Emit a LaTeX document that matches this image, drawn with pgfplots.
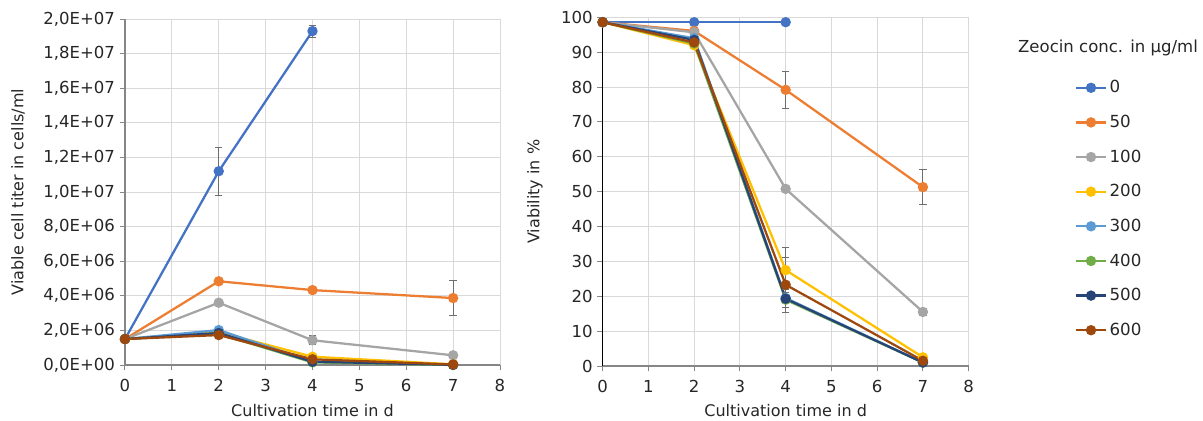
\documentclass[border=0pt]{standalone}
\usepackage{fontspec}
\setmainfont{DejaVu Sans}
\usepackage{pgfplots}
\pgfplotsset{compat=1.18}
\definecolor{c0}{HTML}{4472C4}
\definecolor{c50}{HTML}{ED7D31}
\definecolor{c100}{HTML}{A5A5A5}
\definecolor{c200}{HTML}{FFC000}
\definecolor{c300}{HTML}{5B9BD5}
\definecolor{c400}{HTML}{70AD47}
\definecolor{c500}{HTML}{264478}
\definecolor{c600}{HTML}{9E480E}
\definecolor{gridc}{HTML}{D9D9D9}
\definecolor{axc}{HTML}{868686}
\definecolor{errc}{HTML}{6E6E6E}
\definecolor{txt}{HTML}{262626}

\pgfplotsset{zeo/.style={
  scale only axis, clip=false,
  axis lines*=left,
  xmin=0, xmax=8, xtick={0,...,8},
  grid=major, grid style={draw=gridc, line width=0.75pt},
  axis line style={draw=axc, line width=1pt},
  tick align=outside, major tick length=4pt,
  tick style={draw=axc, line width=0.75pt},
  /pgf/number format/assume math mode=true,
  ticklabel style={font=\fontsize{12.4}{14}\selectfont, text=txt},
  xticklabel style={yshift=-3.5pt},
  label style={font=\fontsize{12}{14}\selectfont, text=txt},
  every axis plot/.append style={line width=1.7pt, mark=*, mark size=3pt},
  /pgfplots/error bars/error bar style={draw=errc, line width=0.75pt},
  /pgfplots/error bars/error mark options={rotate=90, draw=errc, line width=0.75pt, mark size=2.8pt},
}}

\begin{document}
\begin{tikzpicture}
\useasboundingbox (0,0) rectangle (902.25pt,315.75pt);

% left: viable cell titer
\begin{axis}[zeo,
  at={(93.75pt,42pt)}, anchor=south west,
  width=281.25pt, height=259.5pt,
  ymin=0, ymax=2e7,
  ytick={0,2e6,4e6,6e6,8e6,1e7,1.2e7,1.4e7,1.6e7,1.8e7,2e7},
  yticklabels={{0,0E+00},{2,0E+06},{4,0E+06},{6,0E+06},{8,0E+06},{1,0E+07},{1,2E+07},{1,4E+07},{1,6E+07},{1,8E+07},{2,0E+07}},
  scaled y ticks=false,
  xlabel={Cultivation time in d},
  ylabel={Viable cell titer in cells/ml},
  xlabel style={at={(axis description cs:0.5,-0.133)}, anchor=center},
  ylabel style={at={(axis description cs:-0.285,0.5)}, anchor=center},
]
\addplot[c0] coordinates {(0,1.5e6)(2,1.12e7)(4,1.93e7)};
\addplot[c50] coordinates {(0,1.5e6)(2,4.84e6)(4,4.33e6)(7,3.87e6)};
\addplot[c100] coordinates {(0,1.5e6)(2,3.6e6)(4,1.43e6)(7,0.56e6)};
\addplot[c200] coordinates {(0,1.5e6)(2,1.9e6)(4,0.48e6)(7,0.04e6)};
\addplot[c300] coordinates {(0,1.5e6)(2,2.02e6)(4,0.2e6)(7,0.01e6)};
\addplot[c400] coordinates {(0,1.5e6)(2,1.8e6)(4,0.15e6)(7,0)};
\addplot[c500] coordinates {(0,1.5e6)(2,1.85e6)(4,0.19e6)(7,0.01e6)};
\addplot[c600] coordinates {(0,1.5e6)(2,1.73e6)(4,0.33e6)(7,0.03e6)};
% error bars
\addplot[forget plot, draw=none, mark=none, error bars/.cd, y dir=both, y explicit]
  coordinates {(2,1.12e7) +- (0,1.4e6) (4,1.93e7) +- (0,0.35e6)
               (4,4.33e6) +- (0,0.12e6) (7,3.87e6) +- (0,1.0e6)
               (4,1.43e6) +- (0,0.25e6)};
\end{axis}

% right: viability
\begin{axis}[zeo,
  at={(452pt,41.25pt)}, anchor=south west,
  width=274.5pt, height=261.5pt,
  ymin=0, ymax=100, ytick={0,10,...,100},
  y axis line style={draw=black},
  xlabel={Cultivation time in d},
  ylabel={Viability in \%},
  xlabel style={at={(axis description cs:0.5,-0.129)}, anchor=center},
  ylabel style={at={(axis description cs:-0.185,0.5)}, anchor=center},
  legend style={draw=none, fill=none, at={(axis description cs:1.29,0.827)}, anchor=north west,
    font=\fontsize{12.5}{14}\selectfont, text=txt, row sep=11.2pt, inner sep=0pt},
  legend cell align=left,
  legend image code/.code={\draw[mark repeat=2,mark phase=2] plot coordinates {(0cm,0cm)(0.39cm,0cm)(0.78cm,0cm)};},
]
\addplot[c0] coordinates {(0,98.6)(2,98.6)(4,98.6)};
\addplot[c50] coordinates {(0,98.6)(2,96.1)(4,79.2)(7,51.3)};
\addplot[c100] coordinates {(0,98.6)(2,95.7)(4,50.8)(7,15.5)};
\addplot[c200] coordinates {(0,98.6)(2,92)(4,27.5)(7,2.5)};
\addplot[c300] coordinates {(0,98.6)(2,94)(4,19.5)(7,1)};
\addplot[c400] coordinates {(0,98.6)(2,92.5)(4,19)(7,1)};
\addplot[c500] coordinates {(0,98.6)(2,93.5)(4,19.3)(7,1)};
\addplot[c600] coordinates {(0,98.6)(2,92.8)(4,23.3)(7,1.5)};
\legend{0,50,100,200,300,400,500,600}
% error bars
\addplot[forget plot, draw=none, mark=none, error bars/.cd, y dir=both, y explicit]
  coordinates {(4,79.2) +- (0,5.3) (7,51.3) +- (0,5.1)
               (4,50.8) +- (0,0.8) (7,15.5) +- (0,1)
               (4,27.5) +- (0,6.4) (4,23.3) +- (0,7.9) (4,19.3) +- (0,2.5)};
\end{axis}

\node[font=\fontsize{12.4}{14}\selectfont, text=txt] at (831pt,279.75pt) {Zeocin conc. in µg/ml};
\end{tikzpicture}
\end{document}
